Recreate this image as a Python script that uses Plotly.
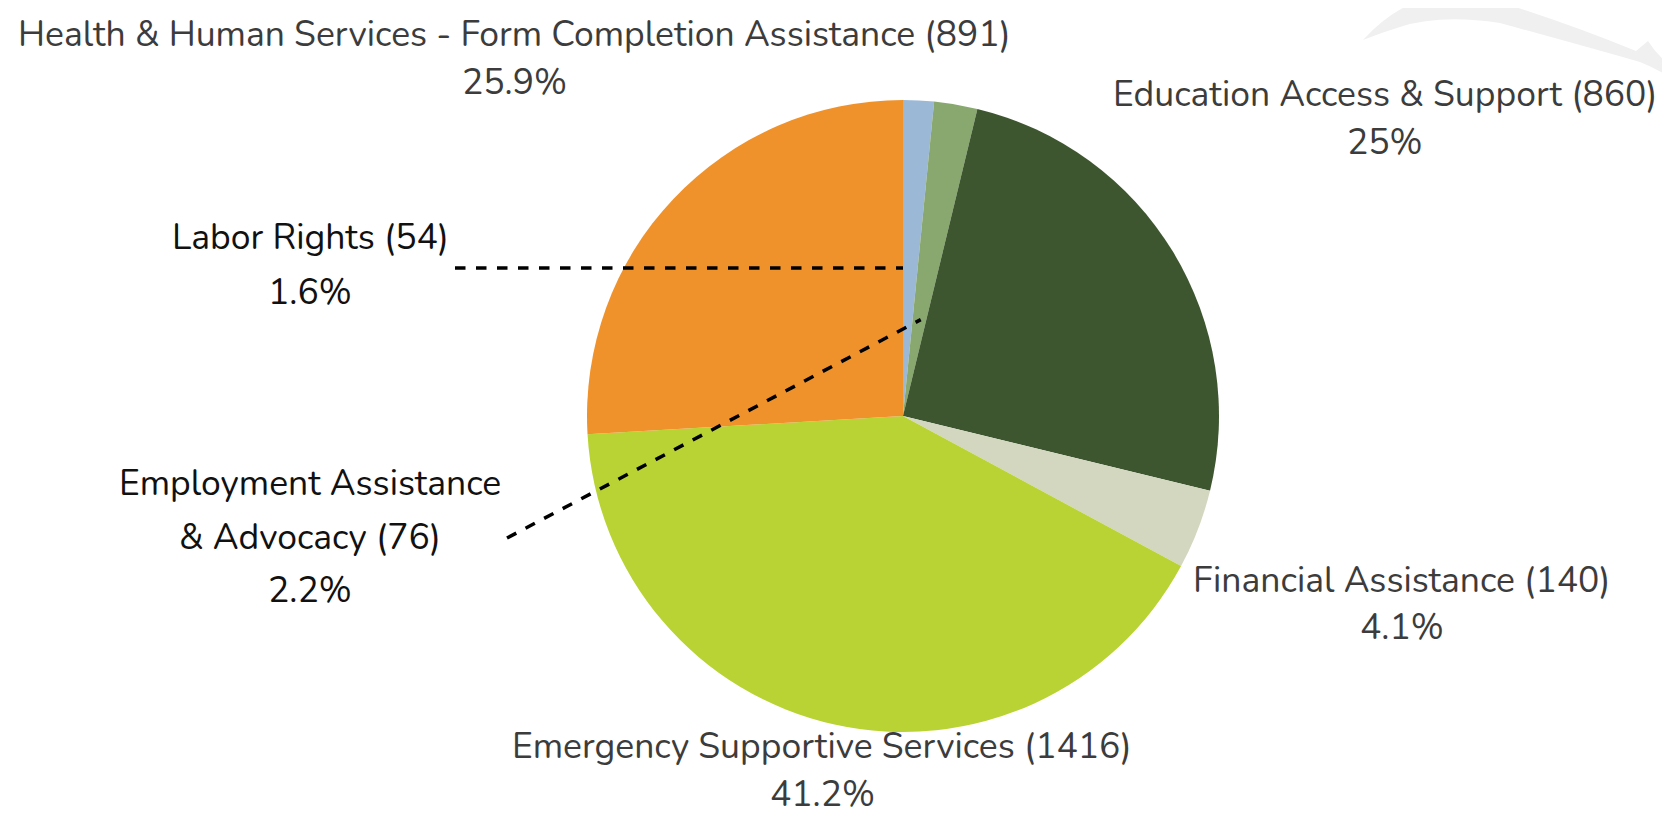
import math
import plotly.graph_objects as go

# ---- data ----
categories = [
    "Labor Rights",
    "Employment Assistance & Advocacy",
    "Education Access & Support",
    "Financial Assistance",
    "Emergency Supportive Services",
    "Health & Human Services - Form Completion Assistance",
]
values = [54, 76, 860, 140, 1416, 891]
colors = ["#9BB8D6", "#88A86F", "#3E5630", "#D3D7C0", "#B9D334", "#F0922B"]
pct_labels = ["1.6%", "2.2%", "25%", "4.1%", "41.2%", "25.9%"]

W, H = 1670, 817
OFF = 8  # page body margin: figure is drawn 8px right/down of the window origin
CX, CY, R = 903, 416, 316  # pie centre / radius in window pixels


def px(x):
    return (x - OFF) / W


def py(y):
    return 1 - (y - OFF) / H


fig = go.Figure()
fig.add_trace(go.Pie(
    labels=categories,
    values=values,
    marker=dict(colors=colors, line=dict(width=0)),
    sort=False,
    direction="clockwise",
    rotation=0,
    textinfo="none",
    hoverinfo="label+value+percent",
    showlegend=False,
    domain=dict(x=[px(CX - R), px(CX + R)], y=[py(CY + R), py(CY - R)]),
))

FONT = "Nunito, 'Open Sans', sans-serif"
GREY = "#3c3c3c"
BLACK = "#111111"

# label placement (line texts, centre x, y of each line, colour)
label_layout = {
    "Health & Human Services - Form Completion Assistance": (["Health & Human Services - Form Completion Assistance (891)"], 515, [35, 82], GREY),
    "Education Access & Support": (["Education Access & Support (860)"], 1385, [94, 142], GREY),
    "Labor Rights": (["Labor Rights (54)"], 310, [237, 292], BLACK),
    "Employment Assistance & Advocacy": (["Employment Assistance", "& Advocacy (76)"], 310, [483, 537, 590], BLACK),
    "Financial Assistance": (["Financial Assistance (140)"], 1402, [580, 627], GREY),
    "Emergency Supportive Services": (["Emergency Supportive Services (1416)"], 822, [746, 794], GREY),
}

for cat, pct in zip(categories, pct_labels):
    lines, x, ys, col = label_layout[cat]
    texts = lines + [pct]
    for t, y in zip(texts, ys):
        fig.add_annotation(
            x=px(x), y=py(y), xref="paper", yref="paper",
            text=t, showarrow=False, xanchor="center", yanchor="middle",
            borderpad=0,
            font=dict(family=FONT, size=35.5, color=col),
        )

# leader lines computed from slice angles
total = sum(values)
starts = []
acc = 0
for v in values:
    starts.append(acc / total * 2 * math.pi)
    acc += v


def pie_point(angle, frac):
    return CX + R * frac * math.sin(angle), CY - R * frac * math.cos(angle)


# Labor Rights: horizontal line ending at the slice's start edge
lx, ly = pie_point(starts[0], 0.468)
fig.add_shape(type="line", xref="paper", yref="paper",
              x0=px(455), y0=py(ly), x1=px(lx), y1=py(ly),
              line=dict(color="#000000", width=3.5, dash="dash"))
# Employment: diagonal line into its slice
sweep_emp = values[1] / total * 2 * math.pi
ex, ey = pie_point(starts[1] + 0.6 * sweep_emp, 0.31)
fig.add_shape(type="line", xref="paper", yref="paper",
              x0=px(507), y0=py(538), x1=px(ex), y1=py(ey),
              line=dict(color="#000000", width=3.5, dash="dash"))

# faint watermark swoosh in the top-right corner (window pixels)
pts = [("M", 1363, 40), ("Q", 1392, 8, 1427, -2), ("L", 1487, -2),
       ("Q", 1565, 22, 1636, 51), ("L", 1648, 41), ("Q", 1660, 60, 1680, 72),
       ("L", 1680, 84), ("Q", 1660, 70, 1640, 62), ("Q", 1580, 45, 1500, 23),
       ("Q", 1440, 14, 1400, 27), ("Q", 1380, 33, 1363, 40)]
path = ""
for p in pts:
    cmd = p[0]
    coords = p[1:]
    s = []
    for i in range(0, len(coords), 2):
        s.append(f"{px(coords[i]):.5f},{py(coords[i+1]):.5f}")
    path += cmd + " ".join(s) + " "
path += "Z"
fig.add_shape(type="path", path=path, xref="paper", yref="paper",
              fillcolor="#f0f0f0", line=dict(width=0), layer="below")

fig.update_layout(
    width=W, height=H,
    margin=dict(l=0, r=0, t=0, b=0),
    paper_bgcolor="white",
    plot_bgcolor="white",
)

fig.write_html("out.html")
